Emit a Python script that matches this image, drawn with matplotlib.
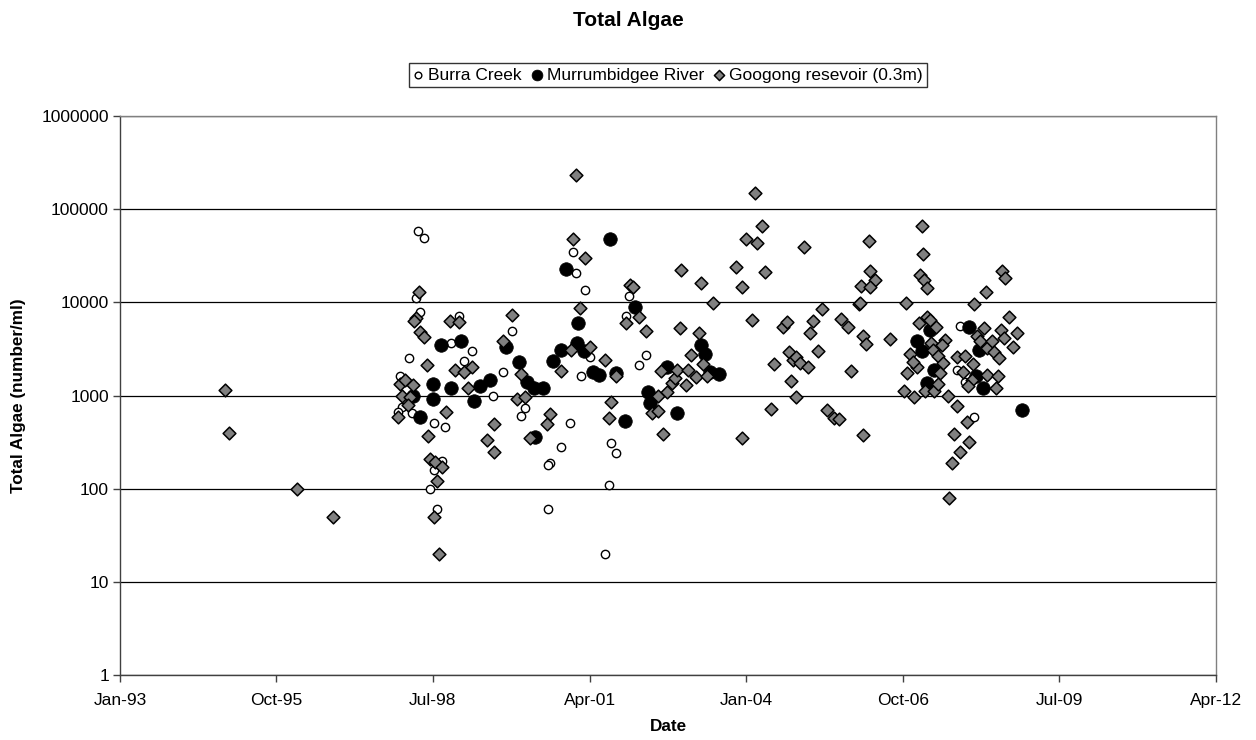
import matplotlib
matplotlib.use("Agg")
import matplotlib.pyplot as plt
import matplotlib.dates as mdates
from matplotlib.ticker import FixedLocator, FixedFormatter, NullLocator
from datetime import datetime

plt.rcParams['font.family'] = ['Liberation Sans', 'DejaVu Sans']

# sample dates (decimal years) and total algae counts (number/ml)
burra_year = [1998.24, 1998.34, 1998.19, 1998.26, 1998.08, 1998.81, 1998.95, 1999.18, 1999.04, 1999.55,
              1999.88, 1999.73, 1997.92, 1997.95, 1998.12, 1997.89, 2000.11, 2000.05, 2000.96, 2001.01,
              2001.17, 2001.25, 2001.09, 2001.94, 2001.89, 2002.23, 2002.11, 1998.52, 1998.71, 1998.65,
              1998.52, 1998.44, 1998.57, 2000.90, 2000.74, 2000.55, 2000.52, 2000.51, 2001.62, 2001.71,
              2001.58, 2001.52, 2007.75, 2007.70, 2007.84, 2008.00]
burra_val = [59000, 49000, 11000, 7800, 2500, 3700, 7200, 3000, 2350, 1000,
             4900, 1800, 1600, 760, 650, 670, 730, 600, 35000, 20500,
             13600, 2600, 1600, 11800, 7200, 2700, 2100, 510, 460, 200,
             160, 100, 60, 510, 280, 190, 180, 60, 310, 240,
             110, 20, 5600, 1900, 1400, 590]

murr_year = [1998.64, 1998.99, 1998.50, 1998.81, 1998.49, 1999.22, 1999.32, 1999.49, 1999.77, 2000.01,
             2000.14, 2000.27, 2000.43, 1998.15, 1998.27, 2000.60, 2000.74, 2001.02, 2001.05, 2000.83,
             2001.61, 2002.04, 2001.15, 2001.31, 2001.41, 2001.71, 2001.87, 2003.21, 2003.28, 2002.61,
             2003.36, 2003.52, 2002.28, 2002.31, 2002.78, 2000.29, 2006.99, 2007.08, 2007.23, 2007.30,
             2007.17, 2007.91, 2008.09, 2008.03, 2008.16, 2008.84]
murr_val = [3500, 3800, 1330, 1200, 910, 880, 1250, 1470, 3350, 2300,
            1400, 1200, 1200, 990, 590, 2350, 3100, 3700, 6000, 22800,
            47500, 8900, 3000, 1780, 1660, 1740, 530, 3500, 2800, 2000,
            1800, 1700, 1100, 830, 650, 360, 3800, 3000, 5100, 1900,
            1350, 5500, 3100, 1600, 1200, 700]

goog_year = [1994.84, 1994.91, 1996.11, 1996.74, 1998.25, 1998.20, 1998.16, 1998.26, 1998.34, 1998.39,
             1997.92, 1998.00, 1998.15, 1997.95, 1998.09, 1998.06, 1997.89, 1998.72, 1998.41, 1998.44,
             1998.53, 1998.65, 1998.56, 1998.52, 1998.61, 1998.80, 1998.96, 1998.88, 1999.04, 1999.19,
             1999.12, 1999.89, 1999.73, 2000.04, 1999.97, 2000.12, 2000.55, 2000.50, 1999.57, 1999.45,
             1999.57, 2000.20, 2000.92, 2000.74, 2001.07, 2000.96, 2001.00, 2001.17, 2001.25, 2001.52,
             2001.71, 2001.62, 2001.58, 2001.96, 2002.01, 2001.89, 2002.12, 2002.23, 2002.34, 2002.45,
             2002.54, 2002.44, 2002.50, 2002.61, 2002.69, 2002.75, 2002.79, 2002.94, 2002.98, 2003.02,
             2003.12, 2003.23, 2003.30, 2002.83, 2003.16, 2002.86, 2003.20, 2003.42, 2003.82, 2003.92,
             2003.99, 2004.09, 2004.16, 2004.19, 2004.28, 2004.33, 2003.92, 2004.43, 2004.49, 2004.64,
             2004.71, 2004.74, 2004.81, 2004.88, 2004.94, 2004.78, 2004.87, 2005.01, 2005.09, 2005.12,
             2005.17, 2005.25, 2005.33, 2005.41, 2005.53, 2005.62, 2005.67, 2005.78, 2005.84, 2005.97,
             2006.00, 2006.01, 2006.04, 2006.05, 2006.10, 2006.15, 2006.17, 2006.26, 2006.17, 2006.52,
             2006.80, 2006.76, 2006.95, 2006.87, 2006.82, 2006.99, 2006.92, 2007.03, 2007.17, 2007.09,
             2007.10, 2007.05, 2007.12, 2007.17, 2007.23, 2007.33, 2007.49, 2007.43, 2007.25, 2007.28,
             2007.37, 2007.46, 2007.40, 2007.14, 2007.30, 2007.36, 2007.54, 2007.69, 2007.88, 2007.65,
             2007.91, 2007.75, 2007.61, 2007.56, 2007.70, 2007.84, 2007.98, 2007.81, 2007.96, 2007.90,
             2008.00, 2008.20, 2008.17, 2008.05, 2008.10, 2008.22, 2008.31, 2008.35, 2008.44, 2008.23,
             2008.42, 2008.38, 2008.48, 2008.52, 2008.61, 2008.68, 2008.76, 2008.49, 2008.54]
goog_val = [1150, 400, 100, 50, 13000, 6800, 6300, 4850, 4200, 2100,
            1330, 1470, 1300, 1000, 970, 790, 590, 670, 370, 210,
            195, 170, 120, 50, 20, 6300, 6100, 1900, 1800, 2000,
            1200, 7300, 3800, 1700, 910, 970, 640, 500, 500, 330,
            250, 350, 3100, 1850, 8800, 48000, 230000, 30000, 3300, 2400,
            1600, 860, 570, 15400, 14700, 6000, 6900, 4900, 650, 690,
            390, 1000, 1840, 1080, 1350, 1540, 1880, 1300, 1880, 2700,
            1570, 2200, 1620, 5300, 4700, 22000, 16300, 9900, 23800, 14500,
            48000, 6500, 148000, 43700, 66000, 21300, 350, 710, 2200, 5500,
            6100, 2900, 2400, 2600, 2250, 1430, 960, 39000, 2000, 4700,
            6300, 3000, 8400, 700, 580, 560, 6700, 5500, 1840, 9600,
            9900, 15000, 380, 4300, 3600, 46000, 21700, 17400, 14700, 4000,
            9800, 1130, 960, 2800, 1760, 2000, 2300, 6000, 7000, 66000,
            33000, 19700, 17400, 14200, 6400, 5500, 3950, 3500, 3700, 3100,
            2660, 2250, 1740, 1130, 1130, 1330, 990, 770, 520, 390,
            315, 250, 190, 80, 2600, 2660, 2200, 1800, 1470, 1270,
            9500, 13000, 5300, 4300, 3800, 3200, 3800, 2900, 2500, 1660,
            1620, 1200, 5000, 4100, 7000, 3300, 4700, 21700, 18100]

tick_dates = [datetime(1993, 1, 1), datetime(1995, 10, 1), datetime(1998, 7, 1), datetime(2001, 4, 1),
              datetime(2004, 1, 1), datetime(2006, 10, 1), datetime(2009, 7, 1), datetime(2012, 4, 1)]
y_ticks = [1, 10, 100, 1000, 10000, 100000, 1000000]


def to_num(years):
    base = mdates.date2num(datetime(1993, 1, 1))
    return [base + (y - 1993) * 365.25 for y in years]


fig = plt.figure(figsize=(12.56, 7.4), dpi=100)
ax = fig.add_axes([120 / 1256, 65 / 740, 1096 / 1256, 559 / 740])

ax.scatter(to_num(burra_year), burra_val, s=36, marker='o', facecolor='white',
           edgecolor='black', linewidth=1.0, zorder=3, label='Burra Creek')
ax.scatter(to_num(murr_year), murr_val, s=95, marker='o', facecolor='black',
           edgecolor='black', linewidth=0.5, zorder=4, label='Murrumbidgee River')
ax.scatter(to_num(goog_year), goog_val, s=42, marker='D', facecolor='#808080',
           edgecolor='black', linewidth=1.1, zorder=5, label='Googong resevoir (0.3m)')

ax.set_yscale('log')
ax.set_ylim(1, 1000000)
ax.yaxis.set_major_locator(FixedLocator(y_ticks))
ax.yaxis.set_major_formatter(FixedFormatter([str(v) for v in y_ticks]))
ax.yaxis.set_minor_locator(NullLocator())

xt = [mdates.date2num(d) for d in tick_dates]
ax.set_xlim(xt[0], xt[-1])
ax.set_xticks(xt)
ax.set_xticklabels([d.strftime('%b-%y') for d in tick_dates])

ax.grid(axis='y', color='black', linewidth=0.9)
ax.set_axisbelow(True)
for side in ['top', 'right']:
    ax.spines[side].set_color('#808080')
    ax.spines[side].set_linewidth(1.0)
for side in ['left', 'bottom']:
    ax.spines[side].set_color('#404040')
    ax.spines[side].set_linewidth(1.0)
ax.tick_params(axis='both', direction='out', length=5, width=1, color='#404040',
               labelsize=12.5)
ax.tick_params(axis='x', pad=8)
ax.tick_params(axis='y', pad=3)

ax.set_xlabel('Date', fontsize=12.3, fontweight='bold')
ax.xaxis.set_label_coords(0.5, (675 - 719) / 559)
ax.set_ylabel('Total Algae (number/ml)', fontsize=12.3, fontweight='bold')
ax.yaxis.set_label_coords((26 - 120) / 1096, 0.5)
fig.text(628 / 1256, 1 - 21 / 740, 'Total Algae', ha='center', va='center',
         fontsize=15, fontweight='bold')

leg = fig.legend(loc='center', bbox_to_anchor=(668 / 1256, 1 - 75 / 740), ncol=3,
                 fontsize=12.5, frameon=True, fancybox=False, handlelength=0.55,
                 handletextpad=0.3, columnspacing=0.6, borderpad=0.25,
                 borderaxespad=0, markerscale=0.8, scatterpoints=1)
leg.get_frame().set_edgecolor('black')
leg.get_frame().set_linewidth(1.0)

fig.savefig('out.png', dpi=100)
